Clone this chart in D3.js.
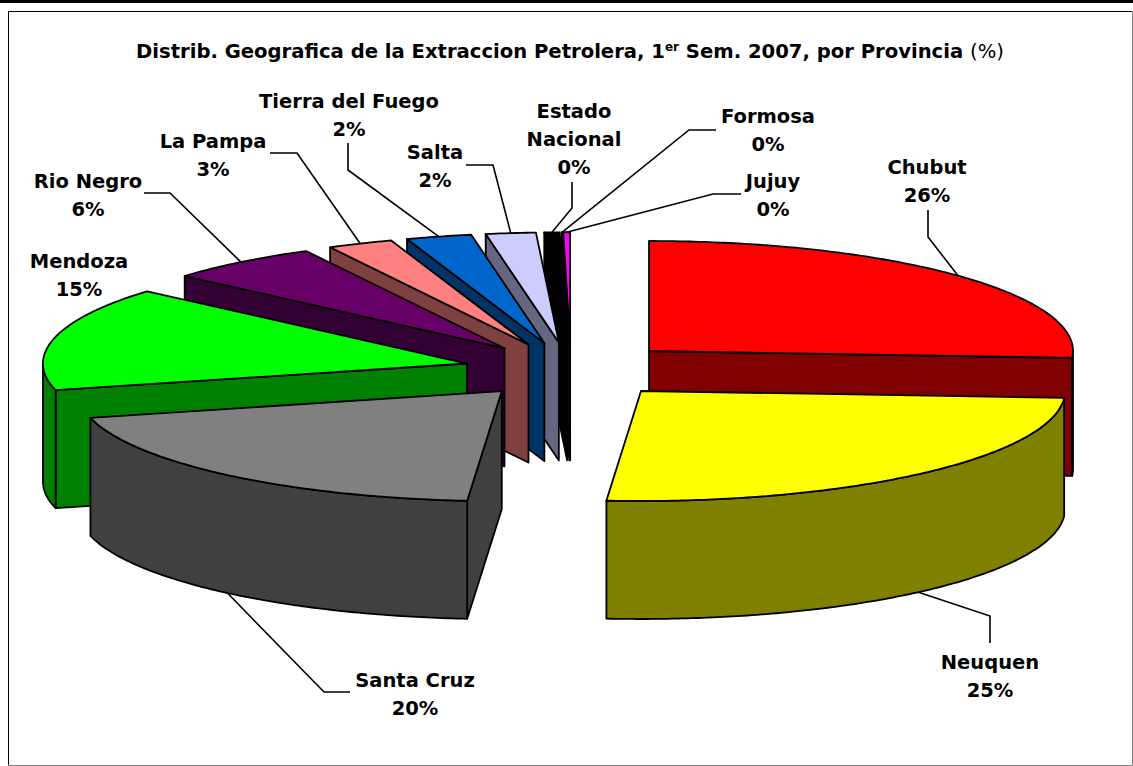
<!DOCTYPE html>
<html><head><meta charset="utf-8">
<style>html,body{margin:0;padding:0;background:#fff;overflow:hidden}svg{display:block}</style>
<script src="https://d3js.org/d3.v7.min.js"></script></head><body>
<script>
const categories = ["Chubut","Neuquen","Santa Cruz","Mendoza","Rio Negro","La Pampa","Tierra del Fuego","Salta","Estado Nacional","Formosa","Jujuy"];
const values = [26.0,25.3,19.8,15.3,5.85,2.5,2.49,1.9,0.58,0.02,0.26];
const percentLabels = ["26%","25%","20%","15%","6%","3%","2%","2%","0%","0%","0%"];
const topColors = ["#ff0000","#ffff00","#808080","#00ff00","#660066","#ff8080","#0066cc","#ccccff","#000000","#000080","#ff00ff"];
const sideColors = ["#800000","#808000","#404040","#008000","#330033","#804040","#003366","#666680","#000000","#000040","#800080"];

// layout (not data)
const W=1133,H=766, cx=571, cy=370, rx=424, ry=110, explode=107, depth=118;
const labelLines = [["Chubut"],["Neuquen"],["Santa Cruz"],["Mendoza"],["Rio Negro"],["La Pampa"],["Tierra del Fuego"],["Salta"],["Estado","Nacional"],["Formosa"],["Jujuy"]];
const labelPos = [[927,174],[990,669],[415,687],[79,268],[88,188],[213,148],[349,108],[435,159],[574,118],[768,123],[773,188]];
const elbows = [[[928,237],[928,210]],[[990,616],[990,643]],[[324,692],[350,692]],[],[[170,193],[144,193]],[[297,153],[270,153]],[[348,170],[348,143]],[[493,165],[466,165]],[[572,208],[572,182]],[[689,130],[716,130]],[[713,194],[741,194]]];
const leaderFront = [false,true,true,false,false,false,false,false,false,false,false];
const fontFam = '"DejaVu Sans",sans-serif';

const svg=d3.select("body").append("svg").attr("width",W).attr("height",H);
svg.append("rect").attr("width",W).attr("height",H).attr("fill","#fff");
svg.append("rect").attr("x",0).attr("y",0).attr("width",W).attr("height",3).attr("fill","#000");
svg.append("path").attr("d",`M8.5 765V11.5H1132`).attr("fill","none").attr("stroke","#000").attr("stroke-width",1);
svg.append("path").attr("d",`M8.5 765.5H1132.5V11.5`).attr("fill","none").attr("stroke","#808080").attr("stroke-width",1);

const arcs=d3.pie().sort(null).value(d=>d)(values);
const xS=d3.scaleLinear().domain([-1,1]).range([-rx,rx]);
const yS=d3.scaleLinear().domain([-1,1]).range([-ry,ry]);
const slices=arcs.map((a,i)=>{
  const mid=(a.startAngle+a.endAngle)/2;
  return {i,a0:a.startAngle,a1:a.endAngle,mid,
    ox:cx+explode*Math.sin(mid), oy:cy-explode*(ry/rx)*Math.cos(mid)};
});
const pt=(s,t,dz=0)=>[s.ox+xS(Math.sin(t)), s.oy-yS(Math.cos(t))+dz];
const arcPts=(s,a,b,dz=0)=>{const n=Math.max(2,Math.ceil((b-a)/0.012));return d3.range(n+1).map(k=>pt(s,a+(b-a)*k/n,dz));};
const line=d3.line();
const order=slices.slice().sort((p,q)=>p.oy-q.oy);
const g=svg.append("g").attr("stroke","#000").attr("stroke-width",1.8).attr("stroke-linejoin","round");
order.forEach(s=>{
  const side=sideColors[s.i], top=topColors[s.i];
  const apex=[s.ox,s.oy], apexB=[s.ox,s.oy+depth];
  const face=t=>{const p=pt(s,t),pb=pt(s,t,depth);g.append("path").attr("d",line([apex,p,pb,apexB])+"Z").attr("fill",side);};
  if(Math.sin(s.a1)>0) face(s.a1);
  if(Math.sin(s.a0)<0) face(s.a0);
  const r0=Math.max(s.a0,Math.PI/2), r1=Math.min(s.a1,Math.PI*1.5);
  if(r1>r0){
    const up=arcPts(s,r0,r1), dn=arcPts(s,r0,r1,depth).reverse();
    g.append("path").attr("d",line(up.concat(dn))+"Z").attr("fill",side);
  }
  g.append("path").attr("d",line([apex].concat(arcPts(s,s.a0,s.a1)))+"Z").attr("fill",top);
});
// leaders
const lg=svg.append("g").attr("fill","none").attr("stroke","#000").attr("stroke-width",1.6);
slices.forEach(s=>{
  if(!elbows[s.i].length) return;
  const start=pt(s,s.mid,leaderFront[s.i]?depth:0);
  lg.append("path").attr("d",line([start].concat(elbows[s.i])));
});
// labels
const tg=svg.append("g").attr("font-family",fontFam).attr("font-weight","bold").attr("font-size",19.5).attr("text-anchor","middle").attr("fill","#000");
categories.forEach((c,i)=>{
  const rows=labelLines[i].concat([percentLabels[i]]);
  rows.forEach((r,k)=>tg.append("text").attr("x",labelPos[i][0]).attr("y",labelPos[i][1]+k*28).text(r));
});
// title
const title=svg.append("text").attr("x",570).attr("y",58).attr("text-anchor","middle").attr("font-family",fontFam).attr("font-size",19.6).attr("font-weight","bold");
title.append("tspan").text("Distrib. Geografica de la Extraccion Petrolera, 1");
title.append("tspan").attr("font-size",12).attr("dy",-7).text("er");
title.append("tspan").attr("dy",7).text(" Sem. 2007, por Provincia ");
title.append("tspan").attr("font-weight","normal").text("(%)");
</script></body></html>
